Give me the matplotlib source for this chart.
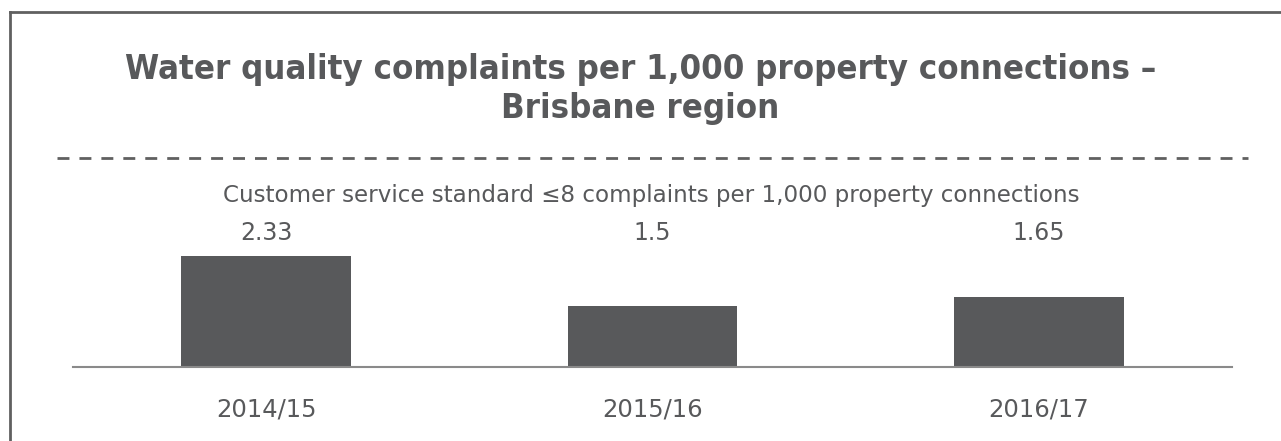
import matplotlib
matplotlib.use("Agg")
import matplotlib.pyplot as plt
from matplotlib.lines import Line2D
from matplotlib.font_manager import fontManager

# data
years = ["2014/15", "2015/16", "2016/17"]
complaints = [2.33, 1.5, 1.65]
value_labels = ["2.33", "1.5", "1.65"]

title = "Water quality complaints per 1,000 property connections \u2013\nBrisbane region"
subtitle = "Customer service standard \u22648 complaints per 1,000 property connections"

grey = "#58595b"
W, H = 1281, 441

# look for a narrow heavy face for the title, otherwise plain DejaVu
narrow = [f for f in fontManager.ttflist
          if "condensed" in str(f.stretch).lower() or "narrow" in f.name.lower()]
narrow_bold = [f for f in narrow if (f.weight if isinstance(f.weight, int) else 700) >= 700]
if narrow_bold:
    title_font = [narrow_bold[0].name, "DejaVu Sans"]
    title_stretch = narrow_bold[0].stretch
    title_size = 24.8
else:
    title_font = ["DejaVu Sans"]
    title_stretch = "normal"
    title_size = 22.5

fig = plt.figure(figsize=(W / 100, H / 100), dpi=100)

# frame (only left and top edges are visible in the crop)
fig.add_artist(Line2D([10 / W, 10 / W], [0, 1 - 11.5 / H], color="#606060", lw=2.0))
fig.add_artist(Line2D([10 / W, 1], [1 - 11.5 / H, 1 - 11.5 / H], color="#606060", lw=2.0))

# title
fig.text(0.5, 1 - 89 / H, title, ha="center", va="center", fontsize=title_size,
         fontweight="heavy", family=title_font, fontstretch=title_stretch,
         color=grey, linespacing=1.25)

# dashed separator
fig.add_artist(Line2D([57 / W, 1248 / W], [1 - 158 / H, 1 - 158 / H], color="#606060",
                      lw=2.0, dashes=(4.3, 3.6)))

fig.text(651 / W, 1 - 195 / H, subtitle, ha="center", va="center", fontsize=16.6, color=grey)

# bars
ax = fig.add_axes([73 / W, 1 - 367 / H, (1232 - 73) / W, 115 / H])
ax.bar(range(len(years)), complaints, width=0.44, color=grey)
ax.set_xlim(-0.5, 2.5)
ax.set_ylim(0.5, 0.5 + 115 / 60.7)
for s in ["top", "right", "left"]:
    ax.spines[s].set_visible(False)
ax.spines["bottom"].set_color("#8a8a8a")
ax.spines["bottom"].set_linewidth(1.5)
ax.set_yticks([])
ax.set_xticks(range(len(years)))
ax.set_xticklabels(years, fontsize=17.5, color=grey)
ax.tick_params(axis="x", length=0, pad=22)

# value labels all sit on one line above the bars
trans = ax.get_xaxis_transform()
label_y = (367 - 233) / 115
for i, lab in enumerate(value_labels):
    ax.text(i, label_y, lab, transform=trans, ha="center", va="center",
            fontsize=17, color=grey)

fig.savefig("out.png", dpi=100)
